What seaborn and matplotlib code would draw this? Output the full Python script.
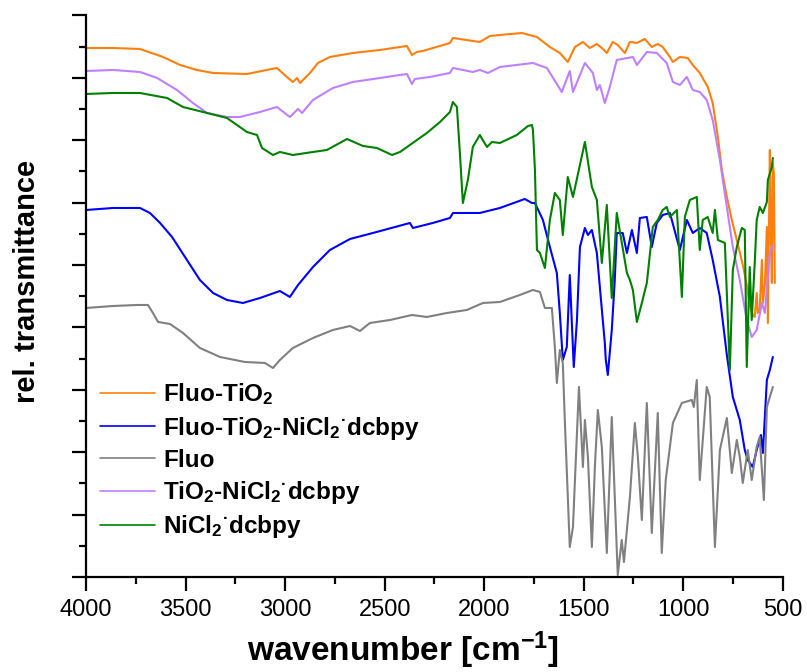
import numpy as np
import pandas as pd
import matplotlib
matplotlib.use("Agg")
import matplotlib.pyplot as plt
from matplotlib.ticker import MultipleLocator
import seaborn as sns

# IR spectra, wavenumber in cm-1, transmittance in a.u. (offset traces)
wn_fluo_tio2 = [4000, 3864, 3729, 3613, 3528, 3443, 3362, 3192, 3041, 2991, 2961, 2940, 2925, 2875,
                2835, 2775, 2659, 2524, 2388, 2363, 2338, 2308, 2172, 2157, 2022, 1971, 1921, 1811,
                1735, 1670, 1620, 1580, 1544, 1504, 1469, 1434, 1409, 1384, 1354, 1329, 1293, 1268,
                1233, 1193, 1158, 1128, 1103, 1067, 1052, 1017, 977, 952, 917, 877, 852, 826, 806,
                781, 756, 731, 701, 681, 666, 651, 641, 631, 626, 616, 605, 600, 590, 580, 575, 565,
                560, 555, 550, 545, 540]
t_fluo_tio2 = [529, 529, 528, 520, 512, 507, 504, 503, 509, 500, 495, 499, 494, 504,
               514, 520, 524, 527, 531, 522, 525, 526, 534, 539, 535, 541, 542, 544,
               540, 530, 524, 515, 530, 535, 529, 533, 529, 524, 535, 532, 524, 535,
               534, 538, 530, 533, 530, 520, 515, 520, 519, 512, 504, 490, 474, 440, 407,
               380, 357, 337, 312, 292, 272, 262, 260, 284, 264, 267, 317, 274, 292, 350, 254, 427,
               347, 294, 414, 404, 294]

wn_fluo_tio2_ni = [4000, 3864, 3729, 3679, 3628, 3568, 3493, 3428, 3362, 3292, 3212, 3126, 3026, 2976,
                   2935, 2860, 2775, 2674, 2559, 2373, 2358, 2258, 2172, 2157, 2022, 1921, 1796, 1760,
                   1745, 1705, 1670, 1635, 1620, 1605, 1585, 1570, 1550, 1534, 1519, 1494, 1479, 1459,
                   1434, 1419, 1394, 1389, 1379, 1359, 1344, 1334, 1304, 1283, 1258, 1233, 1218, 1183,
                   1158, 1133, 1103, 1067, 1017, 982, 952, 917, 882, 852, 816, 781, 751, 716, 691, 676,
                   651, 631, 610, 600, 580, 565, 550]
t_fluo_tio2_ni = [367, 369, 369, 364, 354, 340, 317, 297, 284, 277, 274, 279, 286, 280,
                  292, 310, 327, 338, 344, 354, 349, 354, 359, 364, 364, 369, 378, 374,
                  374, 357, 330, 304, 264, 217, 230, 302, 210, 257, 330, 349, 342, 347,
                  324, 290, 234, 217, 202, 247, 297, 344, 344, 324, 347, 324, 359, 360,
                  330, 354, 362, 364, 327, 357, 344, 349, 344, 317, 280, 222, 180, 157, 127, 117,
                  110, 127, 142, 124, 197, 207, 220]

wn_fluo = [4000, 3864, 3744, 3689, 3664, 3638, 3578, 3513, 3428, 3327, 3202, 3101, 3061, 3026,
           2961, 2860, 2760, 2674, 2624, 2574, 2473, 2363, 2288, 2187, 2087, 2006, 1921, 1821,
           1755, 1720, 1695, 1660, 1645, 1635, 1620, 1605, 1595, 1570, 1554, 1544, 1524, 1504,
           1494, 1479, 1459, 1444, 1429, 1409, 1384, 1359, 1344, 1329, 1309, 1298, 1268, 1243,
           1228, 1208, 1183, 1158, 1128, 1108, 1088, 1052, 1007, 957, 947, 932, 917, 882, 867,
           841, 816, 781, 756, 731, 716, 701, 676, 656, 631, 616, 595, 580, 565, 550]
t_fluo = [269, 271, 272, 272, 264, 255, 253, 244, 229, 220, 215, 214, 209, 217,
          229, 239, 247, 251, 246, 254, 257, 262, 260, 264, 267, 274, 275, 282,
          287, 285, 269, 269, 230, 194, 227, 214, 157, 30, 50, 97, 190, 110,
          157, 120, 30, 110, 167, 130, 24, 160, 80, 2, 37, 15, 80, 154,
          120, 57, 174, 44, 164, 24, 97, 154, 174, 177, 170, 197, 97, 190, 180,
          30, 127, 159, 104, 137, 120, 94, 127, 97, 130, 140, 77, 170, 180, 190]

wn_tio2_ni = [4000, 3864, 3729, 3643, 3543, 3463, 3392, 3292, 3227, 3126, 3041, 2976, 2935, 2915,
              2860, 2760, 2659, 2524, 2388, 2363, 2348, 2273, 2172, 2157, 2057, 2022, 1981, 1921,
              1755, 1685, 1610, 1570, 1554, 1494, 1454, 1434, 1419, 1394, 1369, 1334, 1253, 1233,
              1183, 1133, 1083, 1052, 1017, 982, 952, 917, 882, 852, 816, 781, 751, 716, 681, 656,
              631, 605, 590, 565, 550]
t_tio2_ni = [506, 507, 505, 499, 487, 474, 464, 460, 460, 465, 470, 460, 468, 464,
             477, 489, 495, 499, 503, 493, 498, 500, 504, 509, 505, 507, 504, 510,
             514, 509, 485, 506, 485, 514, 504, 487, 492, 474, 490, 517, 520, 512,
             525, 524, 514, 495, 492, 500, 487, 485, 477, 457, 417, 370, 330, 297, 257, 240,
             247, 274, 264, 324, 332]

wn_ni = [4000, 3864, 3729, 3593, 3513, 3392, 3292, 3192, 3141, 3116, 3061, 3026, 2961, 2860,
         2790, 2689, 2609, 2539, 2463, 2423, 2373, 2288, 2222, 2172, 2157, 2137, 2122, 2107,
         2082, 2057, 2022, 1986, 1961, 1921, 1836, 1780, 1760, 1755, 1745, 1735, 1720, 1695,
         1670, 1645, 1620, 1605, 1580, 1554, 1494, 1459, 1434, 1409, 1384, 1359, 1334, 1283,
         1268, 1253, 1233, 1208, 1183, 1153, 1128, 1103, 1083, 1067, 1032, 1007, 992, 967, 932,
         917, 902, 877, 852, 841, 826, 791, 766, 751, 731, 706, 691, 681, 666, 656, 641, 631,
         616, 600, 580, 575, 555, 550]
t_ni = [483, 484, 484, 479, 470, 464, 459, 445, 442, 429, 422, 425, 422, 425,
        427, 438, 431, 429, 422, 425, 432, 444, 455, 465, 475, 470, 424, 374,
        397, 430, 442, 430, 435, 434, 442, 451, 452, 447, 407, 327, 324, 309,
        357, 384, 377, 342, 400, 380, 435, 390, 377, 314, 372, 279, 364, 304,
        297, 287, 255, 274, 294, 350, 357, 367, 370, 360, 367, 280, 360, 377, 380,
        327, 357, 360, 344, 367, 337, 334, 207, 307, 330, 349, 347, 210, 310, 257, 314, 357,
        370, 364, 375, 397, 410, 419]

labels = ["Fluo-TiO$_2$",
          "Fluo-TiO$_2$-NiCl$_2$$^{·}$dcbpy",
          "Fluo",
          "TiO$_2$-NiCl$_2$$^{·}$dcbpy",
          "NiCl$_2$$^{·}$dcbpy"]
colors = ["#ff7f0e", "#0000ff", "#808080", "#bf80ff", "#008000"]
series_wn = [wn_fluo_tio2, wn_fluo_tio2_ni, wn_fluo, wn_tio2_ni, wn_ni]
series_t = [t_fluo_tio2, t_fluo_tio2_ni, t_fluo, t_tio2_ni, t_ni]

frames = []
for name, wn, t in zip(labels, series_wn, series_t):
    frames.append(pd.DataFrame({"wavenumber": wn, "T": t, "sample": name}))
df = pd.concat(frames, ignore_index=True)

sns.set_style("ticks")
plt.rcParams["font.family"] = ["Liberation Sans", "DejaVu Sans"]
plt.rcParams["mathtext.fontset"] = "custom"
plt.rcParams["mathtext.rm"] = "Liberation Sans:bold"
plt.rcParams["mathtext.default"] = "rm"
plt.rcParams["text.color"] = "black"
plt.rcParams["axes.labelcolor"] = "black"
plt.rcParams["xtick.color"] = "black"
plt.rcParams["ytick.color"] = "black"

fig = plt.figure(figsize=(8.07, 6.72), dpi=100)
ax = fig.add_axes([0.1066, 0.1414, 0.8634, 0.8363])

sns.lineplot(data=df, x="wavenumber", y="T", hue="sample", hue_order=labels,
             palette=dict(zip(labels, colors)), estimator=None, sort=False,
             linewidth=1.5, ax=ax)

ax.set_xlim(4000, 500)
ax.set_ylim(0, 562)
ax.xaxis.set_major_locator(MultipleLocator(500))
ax.xaxis.set_minor_locator(MultipleLocator(250))
ax.yaxis.set_major_locator(MultipleLocator(62.4))
ax.yaxis.set_minor_locator(MultipleLocator(31.2))
ax.tick_params(which="major", direction="out", length=10, width=1.6, color="black",
               labelsize=17, labelcolor="black", pad=6)
ax.tick_params(which="minor", direction="out", length=5, width=1.6, color="black")
ax.tick_params(axis="y", labelleft=False)
sns.despine(ax=ax)
for s in ["left", "bottom"]:
    ax.spines[s].set_linewidth(1.6)
    ax.spines[s].set_color("black")

ax.set_xlabel("wavenumber [cm$^{-1}$]", fontsize=24, fontweight="bold")
ax.xaxis.set_label_coords(0.455, -0.093)
ax.set_ylabel("rel. transmittance", fontsize=21, fontweight="bold")
ax.yaxis.set_label_coords(-0.064, 0.525)

handles, labs = ax.get_legend_handles_labels()
leg = ax.legend(handles, labs, loc="upper left", bbox_to_anchor=(0.02, 0.348),
                frameon=False, borderpad=0, borderaxespad=0, handlelength=2.26,
                handletextpad=0.33, labelspacing=0.3,
                prop={"weight": "bold", "size": 17.5})
for line in leg.get_lines():
    line.set_linewidth(1.2)

fig.savefig("out.png", dpi=100)
